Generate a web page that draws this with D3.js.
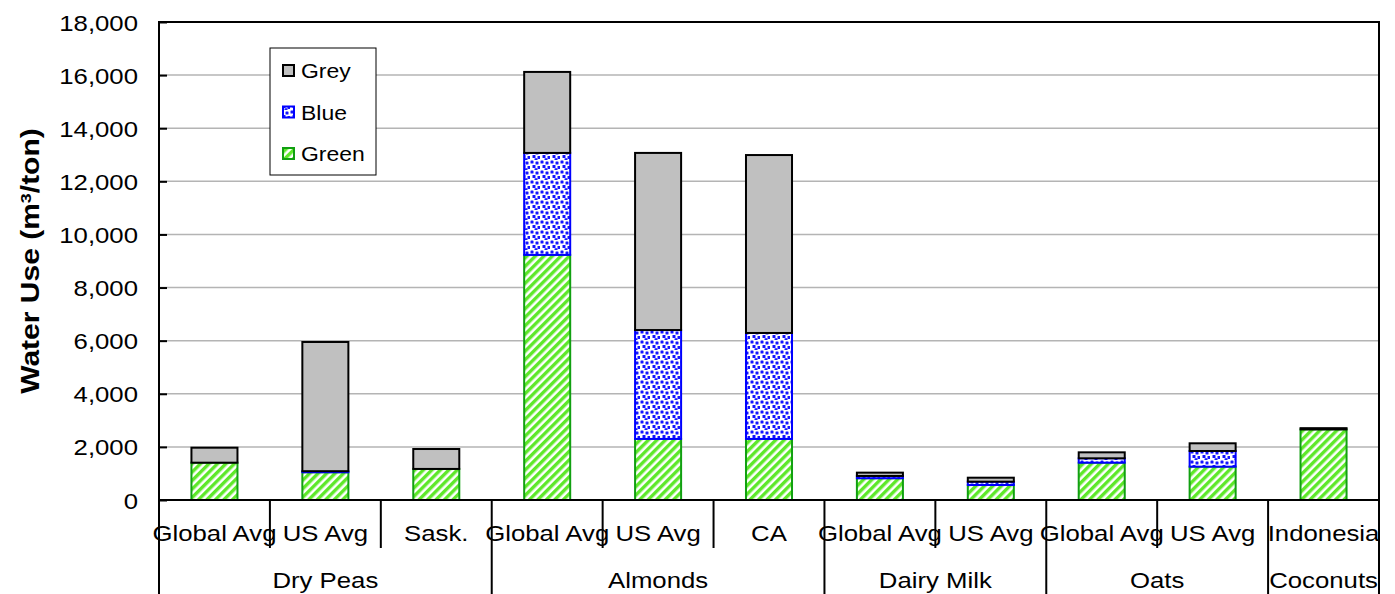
<!DOCTYPE html>
<html><head><meta charset="utf-8">
<script src="https://cdn.jsdelivr.net/npm/d3@7"></script>
<style>
body{margin:0;background:#fff;}
text{font-family:"Liberation Sans",Arial,sans-serif;fill:#000;}
</style></head>
<body><svg id="c" width="1395" height="594"></svg>
<script>
const categories = ["Global Avg","US Avg","Sask.","Global Avg","US Avg","CA","Global Avg","US Avg","Global Avg","US Avg","Indonesia"];
const groupNames = ["Dry Peas","Almonds","Dairy Milk","Oats","Coconuts"];
const groupSizes = [3,3,2,2,1];
const green = [1405,1045,1170,9230,2300,2300,820,565,1405,1255,2660];
const blue  = [0,40,0,3840,4100,3990,85,125,165,590,0];
const grey  = [565,4865,750,3050,6670,6700,125,150,225,290,45];
const yTicks = [0,2000,4000,6000,8000,10000,12000,14000,16000,18000];
const seriesNames = ["Green","Blue","Grey"];

const svg = d3.select("#c");
const L=159,R=1379,T=22,B=500;
const SX=1.12, FS=23;
const x = d3.scaleBand().domain(d3.range(categories.length)).range([L,R]).padding(0);
const y = d3.scaleLinear().domain([0,18000]).range([B,T]);
const bw = x.bandwidth()*0.415;

const defs = svg.append("defs");
const pg = defs.append("pattern").attr("id","pGreen").attr("patternUnits","userSpaceOnUse").attr("width",6).attr("height",6).attr("patternTransform","rotate(45)");
pg.append("rect").attr("width",6).attr("height",6).attr("fill","#fff");
pg.append("rect").attr("width",3.4).attr("height",6).attr("fill","#5ee82a");
const pb = defs.append("pattern").attr("id","pBlue").attr("patternUnits","userSpaceOnUse").attr("width",10).attr("height",10);
pb.append("rect").attr("width",10).attr("height",10).attr("fill","#fff");
[[0.5,0.5],[5.5,1.5],[2.5,5],[7.5,6],[4.5,8.3]].forEach(p=>
  pb.append("rect").attr("x",p[0]).attr("y",p[1]).attr("width",3).attr("height",3).attr("rx",0.6).attr("fill","#1414ff"));

// gridlines
svg.append("g").selectAll("line").data(yTicks.filter(d=>d>0 && d<18000)).join("line")
  .attr("x1",L).attr("x2",R).attr("y1",d=>y(d)).attr("y2",d=>y(d))
  .attr("stroke","#b4b4b4").attr("stroke-width",1.5);

// stacked bars
const rows = categories.map((c,i)=>({i,Green:green[i],Blue:blue[i],Grey:grey[i]}));
const stack = d3.stack().keys(seriesNames)(rows);
const fills = {Green:"url(#pGreen)",Blue:"url(#pBlue)",Grey:"#c0c0c0"};
const strokes = {Green:"#11a011",Blue:"#0000ff",Grey:"#000"};
stack.forEach(s=>{
  svg.append("g").selectAll("rect").data(s.filter(d=>d[1]-d[0]>0)).join("rect")
    .attr("x",d=>x(d.data.i)+(x.bandwidth()-bw)/2)
    .attr("width",bw)
    .attr("y",d=>y(d[1]))
    .attr("height",d=>Math.max(0.5,y(d[0])-y(d[1])))
    .attr("fill",fills[s.key]).attr("stroke",strokes[s.key]).attr("stroke-width",2);
});

// frame
svg.append("rect").attr("x",L).attr("y",T).attr("width",R-L).attr("height",B-T)
  .attr("fill","none").attr("stroke","#000").attr("stroke-width",2);

// y axis (ticks inside, labels outside)
const ya = svg.append("g").attr("transform",`translate(${L},0)`)
  .call(d3.axisLeft(y).tickValues(yTicks).tickFormat(d3.format(",")).tickSizeInner(-8).tickSizeOuter(0).tickPadding(0));
ya.select(".domain").remove();
ya.selectAll(".tick line").attr("stroke","#000").attr("stroke-width",2);
ya.selectAll(".tick text").each(function(){
  const t=d3.select(this);
  t.attr("x",null).attr("dy",null)
   .attr("transform",`translate(-21,8) scale(${SX},1)`)
   .attr("font-size",FS).attr("fill","#000").attr("font-family","'Liberation Sans',Arial,sans-serif");
});

svg.append("text").attr("transform",`translate(39,${(T+B)/2}) rotate(-90) scale(1.2,1)`)
  .attr("text-anchor","middle").attr("font-size",25).attr("font-weight","bold")
  .html('Water Use (m<tspan baseline-shift="super" font-size="15">3</tspan>/ton)');

// x category labels
svg.append("g").selectAll("text").data(categories).join("text")
  .attr("transform",(d,i)=>`translate(${x(i)+x.bandwidth()/2},541) scale(${SX},1)`)
  .attr("text-anchor","middle").attr("font-size",FS).text(d=>d);

// group boundaries
const bounds=[0]; groupSizes.forEach(n=>bounds.push(bounds[bounds.length-1]+n));
const edge = i => i<categories.length ? x(i) : R;
const inner = d3.range(1,categories.length).filter(i=>!bounds.includes(i));
svg.append("g").selectAll("line").data(inner).join("line")
  .attr("x1",i=>edge(i)).attr("x2",i=>edge(i)).attr("y1",B).attr("y2",548)
  .attr("stroke","#000").attr("stroke-width",2);
svg.append("g").selectAll("line").data(bounds).join("line")
  .attr("x1",i=>edge(i)).attr("x2",i=>edge(i)).attr("y1",B).attr("y2",594)
  .attr("stroke","#000").attr("stroke-width",2);
svg.append("g").selectAll("text").data(groupNames).join("text")
  .attr("transform",(d,k)=>`translate(${(edge(bounds[k])+edge(bounds[k+1]))/2},588) scale(${SX},1)`)
  .attr("text-anchor","middle").attr("font-size",FS).text(d=>d);

// legend
const lg = svg.append("g");
lg.append("rect").attr("x",270).attr("y",48).attr("width",106).attr("height",127)
  .attr("fill","#fff").attr("stroke","#000").attr("stroke-width",1);
const legendItems = ["Grey","Blue","Green"];
legendItems.forEach((k,j)=>{
  const cy = 70.5 + j*41.5;
  lg.append("rect").attr("x",283).attr("y",cy-5.5).attr("width",11).attr("height",11)
    .attr("fill",fills[k]).attr("stroke",strokes[k]).attr("stroke-width",2);
  lg.append("text").attr("transform",`translate(301,${cy+7.5}) scale(${SX},1)`).attr("font-size",20.5).text(k);
});
</script></body></html>
